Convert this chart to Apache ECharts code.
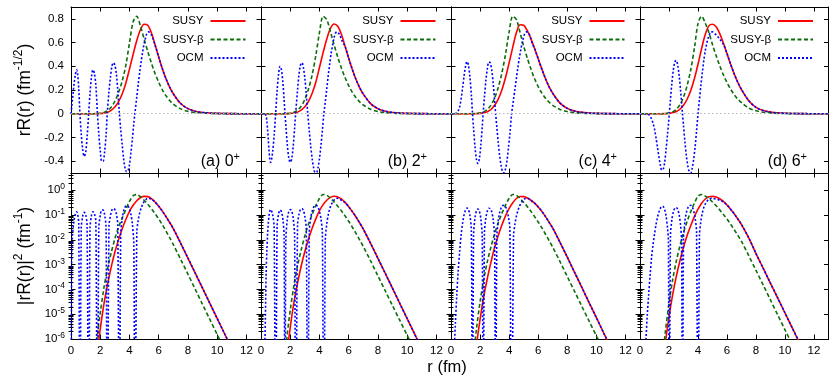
<!DOCTYPE html>
<html>
<head>
<meta charset="utf-8">
<script src="https://cdn.jsdelivr.net/npm/echarts@6/dist/echarts.min.js"></script>
<style>
html,body{margin:0;padding:0;background:#fff}
#chart{width:830px;height:375px}
</style>
</head>
<body>
<div id="chart"></div>
<script>
// r grid (fm) shared by the SUSY and SUSY-beta curves
const rGrid = [0,0.5,1,1.25,1.5,1.75,2,2.25,2.5,2.75,3,3.25,3.5,3.75,4,4.25,4.5,4.75,5,5.25,5.5,5.75,6,6.25,6.5,6.75,7,7.5,8,8.5,9,9.5,10,10.5,11,11.5,12,12.5,13]

// rR(r) values, panels (a)..(d)
const susyA = [0,0,0,0.00001,0.0001,0.00042,0.00158,0.005,0.0126,0.0282,0.0562,0.1,0.166,0.257,0.376,0.5,0.617,0.708,0.754,0.746,0.683,0.582,0.479,0.38,0.295,0.224,0.168,0.086,0.043,0.0214,0.0106,0.00525,0.0026,0.00129,0.00064,0.000316,0.000158,0.0000776,0.0000385]
const susyB = [0,0,0,0.00001,0.00011,0.00046,0.0017,0.0054,0.0134,0.0297,0.0585,0.104,0.172,0.266,0.39,0.515,0.63,0.72,0.757,0.737,0.67,0.57,0.468,0.372,0.289,0.22,0.165,0.085,0.0425,0.0212,0.0105,0.0052,0.00258,0.00128,0.00063,0.000313,0.000156,0.0000772,0.0000383]
const susyC = [0,0,0,0.000032,0.0002,0.00075,0.0025,0.0071,0.0168,0.0355,0.0708,0.123,0.2,0.305,0.431,0.562,0.684,0.75,0.746,0.7,0.631,0.55,0.462,0.376,0.295,0.226,0.172,0.089,0.0447,0.0221,0.011,0.0054,0.0027,0.00133,0.00066,0.00033,0.000163,0.00008,0.00004]
const susyD = [0,0,0,0.000025,0.000178,0.00084,0.0028,0.0078,0.0182,0.0376,0.0708,0.122,0.195,0.295,0.417,0.55,0.668,0.741,0.754,0.733,0.676,0.596,0.507,0.417,0.335,0.263,0.204,0.11,0.053,0.0266,0.0133,0.0067,0.00335,0.00168,0.00084,0.00042,0.00021,0.000106,0.000053]

const betaA = [0,0,0,0.00001,0.000158,0.00089,0.00335,0.0106,0.0266,0.055,0.105,0.178,0.275,0.407,0.596,0.776,0.822,0.741,0.631,0.525,0.427,0.339,0.266,0.202,0.151,0.111,0.0804,0.0407,0.0204,0.0101,0.005,0.00248,0.00123,0.00061,0.0003,0.00015,0.000074,0.0000367,0.0000182]
const betaB = [0,0,0,0.00001,0.000158,0.00094,0.0038,0.0119,0.0299,0.063,0.12,0.209,0.327,0.49,0.684,0.822,0.794,0.692,0.582,0.479,0.385,0.305,0.237,0.18,0.135,0.1,0.0733,0.0376,0.0188,0.0094,0.0047,0.00237,0.00119,0.000596,0.000298,0.000149,0.0000747,0.0000374,0.0000187]
const betaC = [0,0,0,0.000018,0.000316,0.00158,0.0056,0.0158,0.0363,0.0724,0.132,0.221,0.343,0.501,0.692,0.822,0.794,0.684,0.569,0.468,0.376,0.295,0.229,0.174,0.13,0.0966,0.0708,0.0363,0.0182,0.0091,0.00457,0.00229,0.00115,0.000575,0.000288,0.000144,0.0000724,0.0000363,0.0000182]
const betaD = [0,0,0,0.000022,0.00028,0.0014,0.0053,0.0155,0.0367,0.075,0.14,0.237,0.372,0.55,0.76,0.822,0.765,0.684,0.582,0.49,0.403,0.327,0.263,0.207,0.16,0.123,0.0933,0.0479,0.0243,0.0122,0.0061,0.00305,0.00153,0.00077,0.000385,0.000193,0.0000966,0.0000484,0.0000242]

// OCM rR(r) [r, value] up to 5.75 fm; beyond that it lies on the SUSY curve
const ocmA = [[0,0],[0.05,0.06],[0.1,0.12],[0.2,0.24],[0.3,0.33],[0.38,0.37],[0.45,0.34],[0.53,0.21],[0.61,0],
  [0.7,-0.17],[0.8,-0.3],[0.9,-0.36],[1.0,-0.33],[1.1,-0.2],[1.21,0],
  [1.3,0.17],[1.4,0.31],[1.5,0.37],[1.6,0.34],[1.7,0.24],[1.81,0],
  [1.9,-0.17],[2.0,-0.31],[2.1,-0.4],[2.2,-0.4],[2.3,-0.32],[2.4,-0.18],[2.48,0],
  [2.6,0.19],[2.7,0.31],[2.8,0.4],[2.9,0.43],[3.0,0.41],[3.1,0.34],[3.2,0.2],[3.31,0],
  [3.4,-0.13],[3.5,-0.26],[3.6,-0.38],[3.7,-0.46],[3.8,-0.49],[3.9,-0.48],[4.0,-0.43],[4.1,-0.33],[4.2,-0.21],[4.3,-0.08],[4.37,0],
  [4.5,0.14],[4.6,0.25],[4.7,0.35],[4.8,0.44],[4.9,0.52],[5.0,0.59],[5.1,0.64],[5.2,0.68],[5.3,0.69],[5.4,0.685],[5.5,0.665],[5.6,0.635],[5.75,0.58]]
const ocmB = [[0,0],[0.1,-0.0001],[0.2,-0.0004],[0.27,-0.001],[0.35,-0.02],[0.4,-0.06],[0.45,-0.13],[0.5,-0.22],[0.55,-0.31],[0.6,-0.38],[0.65,-0.41],[0.7,-0.4],[0.8,-0.32],[0.9,-0.18],[1.0,0],
  [1.1,0.19],[1.2,0.33],[1.3,0.4],[1.4,0.37],[1.5,0.26],[1.58,0.12],[1.64,0],
  [1.7,-0.1],[1.8,-0.26],[1.9,-0.37],[2.0,-0.41],[2.1,-0.38],[2.2,-0.28],[2.3,-0.12],[2.37,0],
  [2.5,0.2],[2.6,0.33],[2.7,0.41],[2.8,0.43],[2.9,0.39],[3.0,0.3],[3.1,0.16],[3.2,0],
  [3.3,-0.14],[3.4,-0.27],[3.5,-0.38],[3.6,-0.455],[3.7,-0.495],[3.8,-0.495],[3.9,-0.455],[4.0,-0.38],[4.1,-0.27],[4.2,-0.14],[4.3,0],
  [4.4,0.1],[4.5,0.21],[4.6,0.32],[4.7,0.42],[4.8,0.51],[4.9,0.58],[5.0,0.64],[5.1,0.68],[5.2,0.69],[5.3,0.68],[5.4,0.66],[5.5,0.63],[5.6,0.6],[5.75,0.57]]
const ocmC = [[0,0],[0.1,0.0001],[0.2,0.0004],[0.3,0.002],[0.4,0.008],[0.5,0.025],[0.6,0.06],[0.7,0.13],[0.8,0.22],[0.9,0.32],[1.0,0.4],[1.1,0.44],[1.2,0.41],[1.3,0.31],[1.4,0.16],[1.48,0],
  [1.55,-0.12],[1.65,-0.28],[1.75,-0.385],[1.85,-0.42],[1.95,-0.38],[2.05,-0.27],[2.15,-0.11],[2.21,0],
  [2.3,0.14],[2.4,0.28],[2.5,0.38],[2.6,0.435],[2.7,0.43],[2.8,0.37],[2.9,0.26],[3.0,0.11],[3.07,0],
  [3.15,-0.11],[3.25,-0.245],[3.35,-0.36],[3.45,-0.44],[3.55,-0.49],[3.65,-0.5],[3.75,-0.465],[3.85,-0.4],[3.95,-0.29],[4.05,-0.17],[4.17,0],
  [4.3,0.12],[4.4,0.21],[4.5,0.3],[4.6,0.39],[4.7,0.47],[4.8,0.54],[4.9,0.6],[5.0,0.65],[5.1,0.68],[5.2,0.69],[5.3,0.685],[5.4,0.665],[5.5,0.63],[5.6,0.59],[5.75,0.55]]
const ocmD = [[0,0],[0.2,-0.0001],[0.41,-0.001],[0.5,-0.003],[0.6,-0.008],[0.7,-0.02],[0.8,-0.045],[0.9,-0.08],[1.0,-0.13],[1.1,-0.2],[1.2,-0.28],[1.3,-0.36],[1.4,-0.43],[1.5,-0.475],[1.6,-0.47],[1.7,-0.41],[1.8,-0.3],[1.9,-0.17],[1.96,-0.09],[2.02,0],
  [2.1,0.12],[2.2,0.26],[2.3,0.37],[2.4,0.435],[2.5,0.45],[2.6,0.41],[2.7,0.32],[2.8,0.195],[2.87,0.09],[2.93,0],
  [3.0,-0.1],[3.1,-0.24],[3.2,-0.356],[3.3,-0.44],[3.4,-0.49],[3.5,-0.5],[3.6,-0.46],[3.7,-0.385],[3.8,-0.28],[3.9,-0.145],[4.0,0],
  [4.1,0.12],[4.2,0.24],[4.3,0.35],[4.4,0.45],[4.5,0.53],[4.6,0.59],[4.7,0.64],[4.8,0.67],[4.9,0.69],[5.0,0.69],[5.1,0.68],[5.25,0.665],[5.5,0.63],[5.75,0.585]]

const panelTags = ['(a) 0', '(b) 2', '(c) 4', '(d) 6']
const xTicks = [0, 2, 4, 6, 8, 10, 12]
const linTicks = [-0.4, -0.2, 0, 0.2, 0.4, 0.6, 0.8]
const logTicks = [1.000001e-6, 1e-5, 1e-4, 1e-3, 1e-2, 1e-1, 1]
const logMinor = []
for (let k = -6; k <= 0; k++) for (let m = 2; m <= 9; m++) if (m * Math.pow(10, k) < 5) logMinor.push(m * Math.pow(10, k))

const susyAll = [susyA, susyB, susyC, susyD]
const betaAll = [betaA, betaB, betaC, betaD]
const ocmAll = [ocmA, ocmB, ocmC, ocmD]

const FONT = '"Liberation Sans", Arial, Helvetica, sans-serif'
const lefts = [71, 261, 451, 640]
const widths = [190, 190, 189, 188.5]
const tops = [7, 173]
const ph = 166
const labelRight = [240, 427, 617, 807]

const chart = echarts.init(document.getElementById('chart'))
const grid = [], xAxis = [], yAxis = [], series = [], legend = [], title = []
const black = {color: '#000', width: 1}
const frame = {show: true, onZero: false, lineStyle: black}

for (let row = 0; row < 2; row++) {
  for (let i = 0; i < 4; i++) {
    const g = grid.length
    grid.push({left: lefts[i], top: tops[row], width: widths[i], height: ph, containLabel: false, outerBoundsMode: 'none'})
    const xi = xAxis.length
    for (const pos of ['bottom', 'top']) {
      xAxis.push({
        type: 'value', gridIndex: g, position: pos, min: 0, max: 13,
        axisLine: frame, splitLine: {show: false},
        axisTick: {inside: true, length: 4.5, customValues: xTicks, lineStyle: black},
        axisLabel: {show: row === 1 && pos === 'bottom', customValues: xTicks, margin: 6,
          color: '#000', fontSize: 11.5, fontFamily: FONT}
      })
    }
    const yi = yAxis.length
    if (row === 0) {
      for (const pos of ['left', 'right']) {
        yAxis.push({
          type: 'value', gridIndex: g, position: pos, min: -0.5, max: 0.9,
          axisLine: frame, splitLine: {show: false},
          axisTick: {inside: true, length: 4.5, customValues: linTicks, lineStyle: black},
          axisLabel: {show: i === 0 && pos === 'left', customValues: linTicks, margin: 7,
            color: '#000', fontSize: 11.5, fontFamily: FONT,
            formatter: v => String(Math.round(v * 10) / 10)}
        })
      }
    } else {
      for (const pos of ['left', 'right']) {
        yAxis.push({
          type: 'log', logBase: 10, gridIndex: g, position: pos, min: 1e-6, max: 5,
          axisLine: frame, splitLine: {show: false},
          axisTick: {inside: true, length: 4.5, customValues: logTicks, lineStyle: black},
          axisLabel: {show: i === 0 && pos === 'left', customValues: logTicks, margin: 6,
            formatter: v => '{b|10}{s|' + Math.round(Math.log10(v)) + '}',
            rich: {
              b: {fontSize: 11.5, fontFamily: FONT, color: '#000', lineHeight: 16},
              s: {fontSize: 8.5, fontFamily: FONT, color: '#000', verticalAlign: 'top', lineHeight: 9}
            }}
        })
        yAxis.push({
          type: 'log', logBase: 10, gridIndex: g, position: pos, min: 1e-6, max: 5,
          axisLine: {show: false}, splitLine: {show: false},
          axisTick: {inside: true, length: 2.5, customValues: logMinor, lineStyle: black},
          axisLabel: {show: false}
        })
      }
    }
    if (i === 0) {
      yAxis[yi].name = row === 0 ? 'rR(r) (fm{s|-1/2})' : '|rR(r)|{s|2} (fm{s|-1})'
      yAxis[yi].nameLocation = 'middle'
      yAxis[yi].nameRotate = 90
      yAxis[yi].nameGap = 33
      yAxis[yi].nameTextStyle = {fontSize: 17.5, fontFamily: FONT, color: '#000', lineHeight: 25,
        rich: {s: {fontSize: 12, fontFamily: FONT, color: '#000', verticalAlign: 'top', lineHeight: 12}}}
    }

    const toY = row === 0 ? (v => v) : (v => Math.max(v * v, 1e-12))
    const susy = susyAll[i], beta = betaAll[i]
    const tail = rGrid.map((r, k) => [r, susy[k]]).filter(p => p[0] > 5.8)
    const ocm = ocmAll[i].concat(tail)
    const curves = [
      {name: 'SUSY', pts: rGrid.map((r, k) => [r, susy[k]]), color: '#ff0000', type: 'solid'},
      {name: 'SUSY-β', pts: rGrid.map((r, k) => [r, beta[k]]), color: '#0b6e0b', type: [4, 2.5]},
      {name: 'OCM', pts: ocm, color: '#0000ff', type: [2, 2]}
    ]
    curves.forEach((c, n) => {
      const s = {
        name: c.name, type: 'line', xAxisIndex: xi, yAxisIndex: yi,
        data: c.pts.map(p => [p[0], toY(p[1])]),
        symbol: 'none', smooth: 0.3, clip: true, silent: true,
        lineStyle: {color: c.color, width: 1.6, type: c.type},
        itemStyle: {color: c.color}
      }
      if (row === 0 && n === 0) {
        s.markLine = {silent: true, symbol: ['none', 'none'], label: {show: false},
          lineStyle: {color: '#b4b4b4', type: [1.5, 2.5], width: 1}, data: [{yAxis: 0}]}
      }
      series.push(s)
    })

    if (row === 0) {
      legend.push({
        data: ['SUSY', 'SUSY-β', 'OCM'], orient: 'vertical', align: 'right',
        right: 830 - (lefts[i] + widths[i] - 14.5), top: 15, padding: 0,
        itemWidth: 35, itemHeight: 12, itemGap: 6.5, selectedMode: false,
        itemStyle: {opacity: 0},
        textStyle: {fontSize: 11.5, fontFamily: FONT, color: '#000', padding: [0, 2, 0, 0]}
      })
      title.push({
        text: panelTags[i] + '{s|+}', left: labelRight[i], top: 151, textAlign: 'right', padding: 0,
        textStyle: {fontSize: 16, fontFamily: FONT, fontWeight: 'normal', color: '#000', lineHeight: 22,
          rich: {s: {fontSize: 11, fontFamily: FONT, color: '#000', verticalAlign: 'top', lineHeight: 11}}}
      })
    }
  }
}

title.push({
  text: 'r (fm)', left: 447, top: 358, textAlign: 'center', padding: 0,
  textStyle: {fontSize: 16.5, fontFamily: FONT, fontWeight: 'normal', color: '#000', lineHeight: 18}
})

chart.setOption({
  animation: false,
  backgroundColor: '#fff',
  title, legend, grid, xAxis, yAxis, series
})

window.addEventListener('resize', function () {
  chart.resize()
})
</script>
</body>
</html>
